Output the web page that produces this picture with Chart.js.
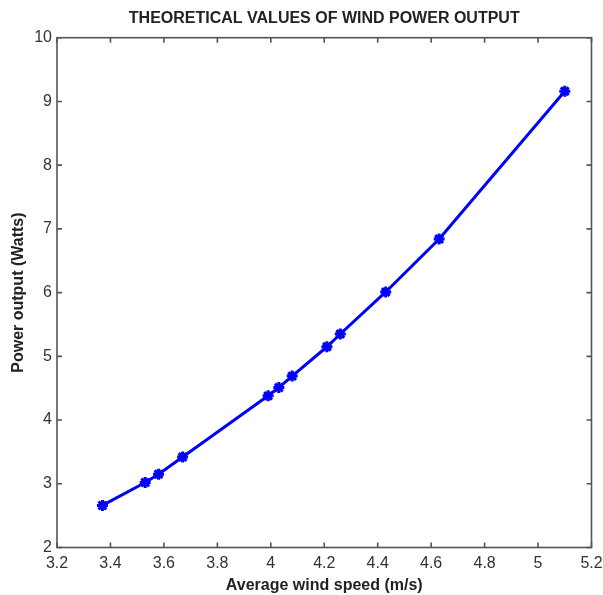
<!DOCTYPE html>
<html>
<head>
<meta charset="utf-8">
<script src="https://cdn.jsdelivr.net/npm/chart.js@4"></script>
<style>
  html, body { margin: 0; padding: 0; background: #fff; }
  #wrap { width: 603px; height: 595px; }
</style>
</head>
<body>
<div id="wrap"><canvas id="chart"></canvas></div>
<script>
// average wind speed (m/s) and theoretical power output (W)
const speed = [3.37, 3.53, 3.58, 3.67, 3.99, 4.03, 4.08, 4.21, 4.26, 4.43, 4.63, 5.10];
const power = [2.66, 3.02, 3.15, 3.42, 4.38, 4.51, 4.69, 5.15, 5.35, 6.01, 6.84, 9.16];

const xRange = [3.2, 5.2];
const yRange = [2, 10];

const fontFamily = "'Liberation Sans', Arial, Helvetica, sans-serif";
const axisColor = '#555';

// MATLAB style box with inward ticks on all four sides
const boxPlugin = {
  id: 'box',
  afterDraw(chart) {
    const { ctx, chartArea: a, scales } = chart;
    const len = 5;
    ctx.save();
    ctx.strokeStyle = axisColor;
    ctx.lineWidth = 1.6;
    ctx.strokeRect(a.left, a.top, a.right - a.left, a.bottom - a.top);
    ctx.beginPath();
    scales.x.ticks.forEach((t) => {
      const px = scales.x.getPixelForValue(t.value);
      ctx.moveTo(px, a.bottom);
      ctx.lineTo(px, a.bottom - len);
      ctx.moveTo(px, a.top);
      ctx.lineTo(px, a.top + len);
    });
    scales.y.ticks.forEach((t) => {
      const py = scales.y.getPixelForValue(t.value);
      ctx.moveTo(a.left, py);
      ctx.lineTo(a.left + len, py);
      ctx.moveTo(a.right, py);
      ctx.lineTo(a.right - len, py);
    });
    ctx.stroke();
    ctx.restore();
  },
};

const points = speed.map((s, i) => ({ x: s, y: power[i] }));

new Chart(document.getElementById('chart'), {
  type: 'line',
  data: {
    datasets: [
      {
        data: points,
        borderColor: '#0000ff',
        backgroundColor: '#0000ff',
        borderWidth: 3,
        pointStyle: 'star',
        pointRadius: 5.5,
        pointBorderWidth: 3,
        pointBorderColor: '#0000ff',
        tension: 0,
        fill: false,
      },
    ],
  },
  options: {
    responsive: true,
    maintainAspectRatio: false,
    animation: false,
    layout: { padding: 0 },
    plugins: {
      legend: { display: false },
      tooltip: { enabled: false },
      title: {
        display: true,
        fullSize: false,
        text: 'THEORETICAL VALUES OF WIND POWER OUTPUT',
        color: '#222',
        font: { family: fontFamily, size: 16, weight: 'bold' },
        padding: { top: 9, bottom: 9.5 },
      },
    },
    scales: {
      x: {
        type: 'linear',
        min: xRange[0],
        max: xRange[1],
        afterFit: (s) => {
          s.height = 47.5;
          s.paddingLeft = 0;
          s.paddingRight = 11.5;
        },
        grid: { display: false, drawTicks: false },
        border: { display: false },
        ticks: {
          stepSize: 0.2,
          padding: 6,
          color: '#333',
          font: { family: fontFamily, size: 16 },
          callback: (v) => String(+v.toFixed(1)),
          maxRotation: 0,
          autoSkip: false,
        },
        title: {
          display: true,
          text: 'Average wind speed (m/s)',
          color: '#222',
          font: { family: fontFamily, size: 16, weight: 'bold' },
          padding: { top: 0, bottom: 0 },
        },
      },
      y: {
        type: 'linear',
        min: yRange[0],
        max: yRange[1],
        afterFit: (s) => {
          s.width = 57;
          s.paddingTop = 0;
          s.paddingBottom = 0;
        },
        grid: { display: false, drawTicks: false },
        border: { display: false },
        ticks: {
          stepSize: 1,
          padding: 5,
          color: '#333',
          font: { family: fontFamily, size: 16 },
          autoSkip: false,
        },
        title: {
          display: true,
          text: 'Power output (Watts)',
          color: '#222',
          font: { family: fontFamily, size: 16, weight: 'bold' },
          padding: { top: 9, bottom: 0 },
        },
      },
    },
  },
  plugins: [boxPlugin],
});
</script>
</body>
</html>
